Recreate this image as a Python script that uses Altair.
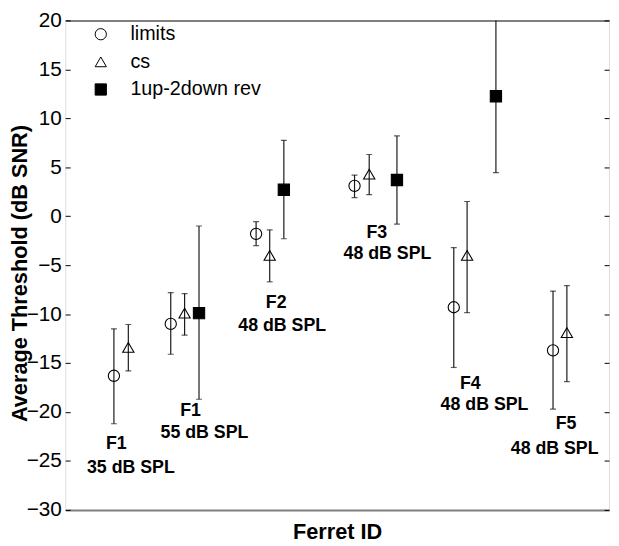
import altair as alt
import pandas as pd

FONT = "Liberation Sans"

methods = ["limits", "cs", "1up-2down rev"]

# hidden x slot (Ferret/condition position, arbitrary 0-100 units)
limits_x = [8.95, 19.4, 35.1, 53.2, 71.45, 89.7]
limits_y = [-16.3, -11.0, -1.8, 3.1, -9.3, -13.7]
limits_lo = [-21.2, -14.1, -3.0, 1.9, -15.45, -19.7]
limits_hi = [-11.5, -7.8, -0.56, 4.2, -3.2, -7.65]

cs_x = [11.6, 21.95, 37.6, 55.9, 73.9, 92.25]
cs_y = [-13.4, -9.9, -4.0, 4.3, -4.0, -11.9]
cs_lo = [-15.8, -12.15, -6.7, 2.2, -9.85, -16.9]
cs_hi = [-11.06, -7.9, -1.4, 6.3, 1.5, -7.1]

rev_x = [24.6, 40.2, 61.0, 79.2]
rev_y = [-9.9, 2.7, 3.7, 12.25]
rev_lo = [-18.7, -2.3, -0.8, 4.45]
rev_hi = [-1.0, 7.75, 8.2, 22.0]

label_text = ["F1", "35 dB SPL", "F1", "55 dB SPL", "F2", "48 dB SPL",
              "F3", "48 dB SPL", "F4", "48 dB SPL", "F5", "48 dB SPL"]
label_x = [9.38, 12.07, 23.05, 25.6, 38.8, 39.9, 57.3, 59.25, 74.5, 77.1, 92.1, 90.0]
label_y = [-23.27, -25.74, -19.9, -22.1, -8.91, -11.19, -1.7, -3.9,
           -17.1, -19.3, -21.19, -23.76]

rows = []
for m, xs, ys, los, his in [
    ("limits", limits_x, limits_y, limits_lo, limits_hi),
    ("cs", cs_x, cs_y, cs_lo, cs_hi),
    ("1up-2down rev", rev_x, rev_y, rev_lo, rev_hi),
]:
    for x, y, lo, hi in zip(xs, ys, los, his):
        rows.append({"method": m, "x": x, "y": y, "lo": lo, "hi": hi})
df = pd.DataFrame(rows)
labels = pd.DataFrame({"text": label_text, "x": label_x, "y": label_y})

W, H = 551, 496

xscale = alt.Scale(domain=[0, 100], nice=False, zero=False)
yscale = alt.Scale(domain=[-30, 20], nice=False, zero=False)
yvals = list(range(-30, 21, 5))

base = alt.Chart(df)

rules = base.mark_rule(color="#1a1a1a", strokeWidth=1.2, clip=True).encode(
    x=alt.X("x:Q", scale=xscale,
            axis=alt.Axis(orient="bottom", labels=False, ticks=False, grid=False,
                          domain=True, domainColor="#7f7f7f", domainWidth=2,
                          title="Ferret ID", titleFont=FONT, titleFontSize=22,
                          titleFontWeight="bold", titleColor="black",
                          titleY=22, titleBaseline="middle")),
    y=alt.Y("lo:Q", scale=yscale,
            axis=alt.Axis(orient="left", values=yvals, ticks=False, domain=False,
                          grid=False, labelFont=FONT, labelFontSize=21,
                          labelColor="black", labelPadding=4,
                          title="Average Threshold (dB SNR)", titleFont=FONT,
                          titleFontSize=22, titleFontWeight="bold",
                          titleColor="black", titleX=-46, titleY=256,
                          titleAngle=-90, titleAlign="center",
                          titleBaseline="middle")),
    y2="hi:Q",
)

cap_lo = base.mark_tick(orient="horizontal", size=6, thickness=1.2,
                        color="#1a1a1a", clip=True).encode(
    x=alt.X("x:Q", scale=xscale, axis=None),
    y=alt.Y("lo:Q", scale=yscale, axis=None),
)
cap_hi = base.mark_tick(orient="horizontal", size=6, thickness=1.2,
                        color="#1a1a1a", clip=True).encode(
    x=alt.X("x:Q", scale=xscale, axis=None),
    y=alt.Y("hi:Q", scale=yscale, axis=None),
)

legend = alt.Legend(orient="none", legendX=26, legendY=4, title=None,
                    labelFont=FONT, labelFontSize=20, labelColor="black",
                    symbolSize=130, symbolStrokeWidth=1, rowPadding=8,
                    labelOffset=20, padding=0)

points = base.mark_point(filled=True, strokeWidth=1.1, size=130, opacity=1).encode(
    x=alt.X("x:Q", scale=xscale, axis=None),
    y=alt.Y("y:Q", scale=yscale, axis=None),
    shape=alt.Shape("method:N",
                    scale=alt.Scale(domain=methods,
                                    range=["circle", "triangle-up", "square"]),
                    legend=legend),
    fill=alt.Fill("method:N",
                  scale=alt.Scale(domain=methods,
                                  range=["transparent", "transparent", "black"]),
                  legend=legend),
    stroke=alt.Stroke("method:N",
                      scale=alt.Scale(domain=methods,
                                      range=["black", "black", "black"]),
                      legend=legend),
)

text = alt.Chart(labels).mark_text(font=FONT, fontSize=18, fontWeight="bold",
                                   color="black", align="center",
                                   baseline="middle").encode(
    x=alt.X("x:Q", scale=xscale, axis=None),
    y=alt.Y("y:Q", scale=yscale, axis=None),
    text="text:N",
)

left_ticks = base.mark_point(opacity=0).encode(
    x=alt.X("x:Q", scale=xscale,
            axis=alt.Axis(orient="top", labels=False, ticks=False, grid=False,
                          domain=True, domainColor="#7f7f7f", domainWidth=2,
                          title=None)),
    y=alt.Y("y:Q", scale=yscale,
            axis=alt.Axis(orient="left", values=yvals, offset=-5, tickSize=5,
                          tickColor="black", tickWidth=1, labels=False,
                          domain=False, grid=False, title=None)),
)
right_ticks = base.mark_point(opacity=0).encode(
    x=alt.X("x:Q", scale=xscale, axis=None),
    y=alt.Y("y:Q", scale=yscale,
            axis=alt.Axis(orient="right", values=yvals, offset=-5, tickSize=5,
                          tickColor="black", tickWidth=1, labels=False,
                          domain=False, grid=False, title=None)),
)

chart = alt.layer(rules, cap_lo, cap_hi, points, text, left_ticks, right_ticks).resolve_axis(
    x="independent", y="independent"
).properties(
    width=W, height=H,
    autosize=alt.AutoSizeParams(type="none"),
    padding={"left": 58, "top": 9, "right": 2, "bottom": 33},
).configure_view(stroke="black", strokeWidth=1).configure(background="white")

chart.save("out.html", embed_options={"renderer": "svg", "actions": False})
